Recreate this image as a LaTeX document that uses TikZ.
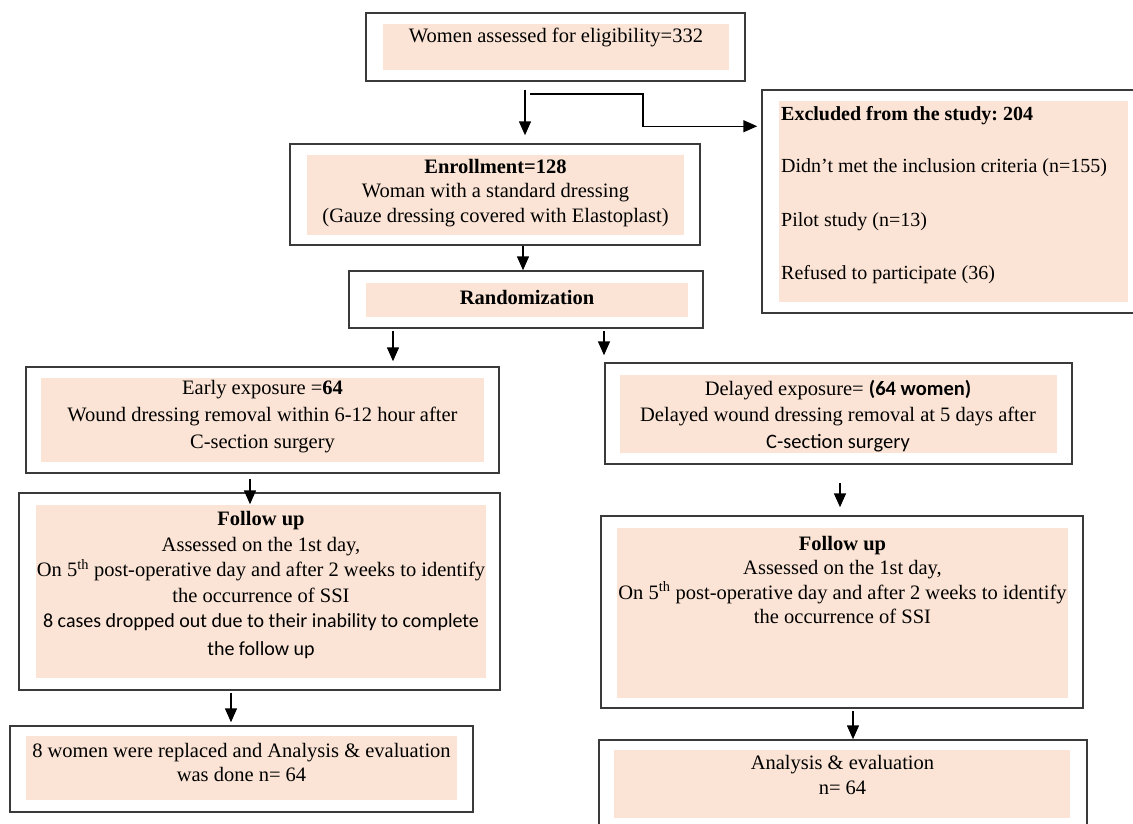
\documentclass[tikz,border=0pt]{standalone}
\usepackage{fontspec}
\setmainfont{Liberation Serif}
\newfontfamily\calib{Carlito}
\usetikzlibrary{arrows.meta,calc}
\definecolor{peach}{HTML}{FBE4D5}
\definecolor{edge}{HTML}{3A3A3A}
\frenchspacing
\begin{document}
\begin{tikzpicture}[x=1pt,y=-1pt,
 outer/.style={draw=edge, line width=1.5pt, fill=white, rectangle, inner sep=0},
 inner/.style={fill=peach, rectangle, inner sep=0},
 txt/.style={align=center, inner sep=0, font=\fontsize{20.5}{26}\selectfont},
 ltxt/.style={align=left, anchor=west, inner sep=0, font=\fontsize{20}{26}\selectfont},
 arr/.style={-{Triangle[length=14pt,width=12pt]}, line width=1.5pt, black}]
\useasboundingbox (0,0) rectangle (1133,823);
% top
\node[outer, minimum width=379, minimum height=68] (topO) at (555.5,47) {};
\node[inner, minimum width=346, minimum height=46] (topI) at (556,47) {};
\node[txt] (topT) at (556,37) {Women assessed for eligibility=332};
% excluded
\node[outer, minimum width=378, minimum height=223] (exO) at (951,201.5) {};
\node[inner, minimum width=349, minimum height=201] (exI) at (953.5,201.5) {};
\node[ltxt] (ex1) at (781,116) {\textbf{Excluded from the study: 204}};
\node[ltxt] (ex2) at (781,168) {Didn’t met the inclusion criteria (n=155)};
\node[ltxt] (ex3) at (781,222) {Pilot study (n=13)};
\node[ltxt] (ex4) at (781,275) {Refused to participate (36)};
% enrollment
\node[outer, minimum width=410, minimum height=101] (enrO) at (495,194.5) {};
\node[inner, minimum width=377, minimum height=80] (enrI) at (495.5,195) {};
\node[txt, font=\fontsize{20.5}{24.5}\selectfont] (enrT) at (495.5,193) {\textbf{Enrollment=128}\\Woman with a standard dressing\\(Gauze dressing covered with Elastoplast)};
% randomization
\node[outer, minimum width=354, minimum height=57] (randO) at (526,299.5) {};
\node[inner, minimum width=322, minimum height=34] (randI) at (527,300) {};
\node[txt] (randT) at (527,297) {\textbf{Randomization}};
% early
\node[outer, minimum width=473, minimum height=106] (earO) at (262.5,420) {};
\node[inner, minimum width=443, minimum height=84] (earI) at (262.5,420) {};
\node[txt, font=\fontsize{20.5}{27}\selectfont] (earT) at (262.5,417) {Early exposure =\textbf{64}\\Wound dressing removal within 6-12 hour after\\C-section surgery};
% delayed
\node[outer, minimum width=467, minimum height=101] (delO) at (838.5,413.5) {};
\node[inner, minimum width=437, minimum height=78] (delI) at (838.5,414) {};
\node[txt, font=\fontsize{20.5}{26.5}\selectfont] (delT) at (838,416) {Delayed exposure= {\calib\bfseries (64 women)}\\Delayed wound dressing removal at 5 days after\\{\calib C-section surgery}};
% follow left
\node[outer, minimum width=481, minimum height=197] (folLO) at (259.5,591.5) {};
\node[inner, minimum width=450, minimum height=173] (folLI) at (261,591.5) {};
\node[txt, font=\fontsize{20.5}{25.5}\selectfont] (folLT) at (261,585) {\textbf{Follow up}\\Assessed on the 1st day,\\On 5\textsuperscript{th} post-operative day and after 2 weeks to identify\\the occurrence of SSI\\{\calib\fontsize{20}{25.5}\selectfont 8 cases dropped out due to their inability to complete}\\[2pt]{\calib\fontsize{20}{25.5}\selectfont the follow up}};
% follow right
\node[outer, minimum width=482, minimum height=192] (folRO) at (842,612) {};
\node[inner, minimum width=451, minimum height=170] (folRI) at (842.5,612.5) {};
\node[txt, font=\fontsize{20.5}{24.5}\selectfont] (folRT) at (842.5,580) {\textbf{Follow up}\\Assessed on the 1st day,\\On 5\textsuperscript{th} post-operative day and after 2 weeks to identify\\the occurrence of SSI};
% bottom left
\node[outer, minimum width=463, minimum height=86] (botLO) at (241.5,769) {};
\node[inner, minimum width=431, minimum height=64] (botLI) at (241.5,768) {};
\node[txt, font=\fontsize{20.5}{24}\selectfont] (botLT) at (241.5,762) {8 women were replaced and Analysis \& evaluation\\was done n= 64};
% bottom right
\node[outer, minimum width=488, minimum height=90] (botRO) at (843,785) {};
\node[inner, minimum width=456, minimum height=68] (botRI) at (842,784) {};
\node[txt, font=\fontsize{20.5}{25}\selectfont] (botRT) at (842.5,774.5) {Analysis \& evaluation\\n= 64};
% arrows
\draw[arr] ($(topO.south)+(-30.5,8)$) -- ($(enrO.north)+(30,-8)$);
\draw[arr] ($(topO.south)+(-25.5,12)$) -- ++(113,0) |- ($(exO.north west)+(-4,37)$);
\draw[arr] ($(enrO.south)+(28,0)$) -- ($(randO.north)+(-3,0)$);
\draw[arr] ($(randO.south)+(-133,2)$) -- ($(earO.north)+(130.5,-5)$);
\draw[arr] ($(randO.south)+(78,2)$) -- ($(delO.north)+(-234.5,-7)$);
\draw[arr] ($(earO.south)+(-12.5,5)$) -- ($(folLO.north)+(-9.5,12)$);
\draw[arr] ($(delO.south)+(1.5,18)$) -- ($(folRO.north)+(-2,-8)$);
\draw[arr] ($(folLO.south)+(-28.5,2)$) -- ($(botLO.north)+(-10.5,-3)$);
\draw[arr] ($(folRO.south)+(11,2)$) -- ($(botRO.north)+(10,0)$);
\end{tikzpicture}
\end{document}
